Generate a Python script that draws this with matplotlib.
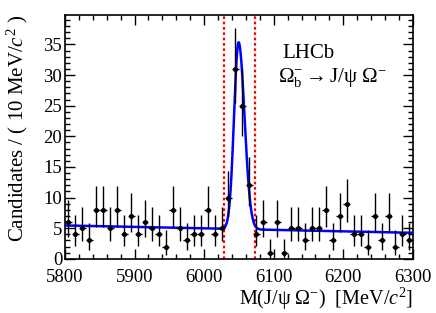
import math
import numpy as np
import matplotlib
matplotlib.use("Agg")
import matplotlib.pyplot as plt
from matplotlib.ticker import MultipleLocator

# binned data: 10 MeV bins from 5800 to 6300
bin_lo = 5800
bin_width = 10
counts = [6, 4, 5, 3, 8, 8, 5, 8, 4, 7, 4, 6, 5, 4, 2, 8,
          5, 3, 4, 4, 8, 4, 5, 10,
          31, 25,
          12, 4, 6, 1, 6, 1, 5, 5, 3, 5, 5, 8,
          3, 7, 9, 4, 4, 2, 7, 3, 7, 2, 4, 3]

# fit model parameters (per 10 MeV bin)
bkg_at_5800 = 5.45
bkg_at_6300 = 4.25
sig_mean = 6049.5
sig_sigma_left = 6.5
sig_sigma_right = 8.5
sig_height = 30.5

# signal window
window = [6028, 6073]

plt.rcParams['font.family'] = ['Liberation Serif', 'DejaVu Serif']
plt.rcParams['mathtext.fontset'] = 'custom'
plt.rcParams['mathtext.rm'] = 'Liberation Serif'
plt.rcParams['mathtext.it'] = 'Liberation Serif:italic'


def pois_cdf(k, mu):
    s = 0.0
    term = math.exp(-mu)
    for i in range(k + 1):
        if i > 0:
            term *= mu / i
        s += term
    return s


def solve(f, lo, hi):
    for _ in range(80):
        mid = 0.5 * (lo + hi)
        if f(mid) > 0:
            lo = mid
        else:
            hi = mid
    return 0.5 * (lo + hi)


def pois_err(n):
    # central 68% Poisson interval
    a = 0.15865525
    if n == 0:
        lo = 0.0
    else:
        lo = solve(lambda mu: a - (1 - pois_cdf(n - 1, mu)), 0.0, n)
    hi = solve(lambda mu: pois_cdf(n, mu) - a, n, n + 10 * math.sqrt(n + 1) + 5)
    return n - lo, hi - n


centers = bin_lo + bin_width * (np.arange(len(counts)) + 0.5)
errs = np.array([pois_err(n) for n in counts]).T


def model(x):
    bkg = bkg_at_5800 + (bkg_at_6300 - bkg_at_5800) * (x - 5800) / 500.0
    sig = np.where(x < sig_mean,
                   np.exp(-0.5 * ((x - sig_mean) / sig_sigma_left) ** 2),
                   np.exp(-0.5 * ((x - sig_mean) / sig_sigma_right) ** 2))
    return bkg + sig_height * sig


fig = plt.figure(figsize=(4.36, 3.13), dpi=100)
ax = fig.add_axes([0.149, 0.173, 0.798, 0.779])

xs = np.linspace(5800, 6300, 2001)
ax.plot(xs, model(xs), '-', color='#0000ff', lw=1.8, zorder=3)

ax.errorbar(centers, counts, yerr=errs, xerr=bin_width / 2, fmt='o', color='black',
            ms=2.6, elinewidth=1.0, capsize=0, zorder=4)

for w in window:
    ax.axvline(w, color='#ff0000', ls=(0, (1.2, 1.2)), lw=1.6, zorder=2)

ax.set_xlim(5800, 6300)
ax.set_ylim(0, 39.8)
ax.xaxis.set_major_locator(MultipleLocator(100))
ax.xaxis.set_minor_locator(MultipleLocator(20))
ax.yaxis.set_major_locator(MultipleLocator(5))
ax.yaxis.set_minor_locator(MultipleLocator(1))
ax.tick_params(which='both', direction='in', top=True, right=True, labelsize=13.5, width=1.0)
ax.tick_params(which='major', length=7)
ax.tick_params(which='minor', length=3.5)
ax.tick_params(axis='x', pad=7)
ax.tick_params(axis='y', pad=2)
for s in ax.spines.values():
    s.set_linewidth(1.2)

ax.set_xlabel(r'M(J/$\mathrm{\psi}$ $\Omega^{-}$)  [MeV/$c^{2}$]', fontsize=14.5, loc='right', labelpad=0)
ax.set_ylabel(r'Candidates / ( 10 MeV/$c^{2}$ )', fontsize=15, loc='top', labelpad=10)

ax.text(6113, 33.6, 'LHCb', fontsize=15, ha='left', va='center')
ax.text(6106, 29.6, r'$\Omega_{\mathrm{b}}^{-}\rightarrow\mathrm{J}/\mathrm{\psi}\ \Omega^{-}$',
        fontsize=15, ha='left', va='center')

fig.savefig('out.png', dpi=100)
